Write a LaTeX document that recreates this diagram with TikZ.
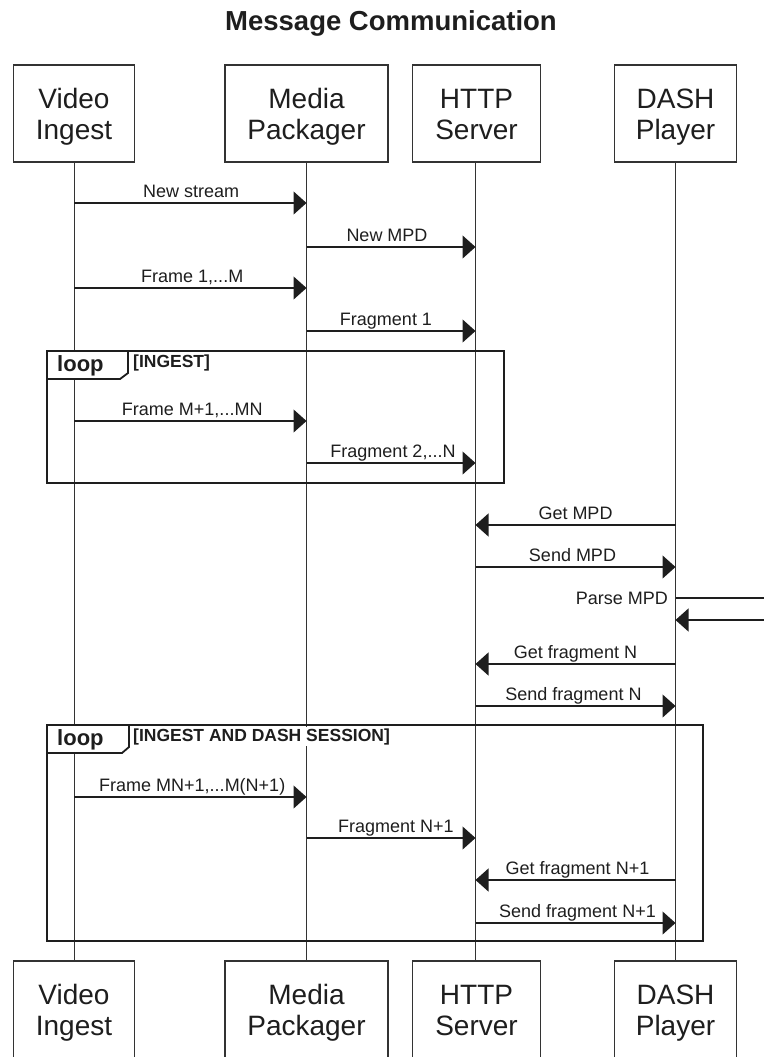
\documentclass[tikz,border=0pt]{standalone}
\usepackage{fontspec}
\setmainfont{Liberation Sans}
\usetikzlibrary{arrows.meta}
\definecolor{ink}{HTML}{1E1E1E}
\definecolor{edge}{HTML}{333333}

\tikzset{
  actor/.style={draw=edge, line width=1.1pt, fill=white, minimum height=97pt, inner sep=0pt},
  actortext/.style={anchor=base, font=\fontsize{28}{31}\selectfont, text=ink, inner sep=0pt},
  life/.style={draw=edge, line width=1pt},
  msg/.style={draw=ink, line width=1.1pt, -{Triangle[length=13pt,width=23pt]}},
  selfline/.style={draw=ink, line width=1.1pt},
  lbl/.style={anchor=base, font=\fontsize{18}{20}\selectfont, text=ink, inner sep=0pt, yshift=6pt},
  frameline/.style={draw=ink, line width=2.2pt},
  looptab/.style={draw=ink, line width=1.8pt, fill=white, line join=miter},
  looptext/.style={anchor=base west, font=\bfseries\fontsize{22}{24}\selectfont, text=ink, inner sep=0pt},
  guard/.style={anchor=base west, font=\bfseries\fontsize{17.5}{20}\selectfont, text=ink, inner sep=1pt, fill=white},
  heading/.style={anchor=base, font=\bfseries\fontsize{27.5}{30}\selectfont, text=ink, inner sep=0pt}
}

% participant box with a two-line caption: name, centre x, width, top y, line 1, line 2
\newcommand\actorbox[6]{%
  \node[actor, minimum width=#3pt] (#1) at (#2, #4+48.5) {};
  \node[actortext] (#1a) at (#2, #4+43) {#5};
  \node[actortext] (#1b) at (#2, #4+74) {#6};
}

\begin{document}
\begin{tikzpicture}[x=1pt, y=-1pt]
\useasboundingbox (0,0) rectangle (763,1057);

\node[heading] (title) at (391,31) {Message Communication};

% lifelines first, boxes on top of them
\coordinate (viTop) at (74,162);   \coordinate (viBot) at (74,961);
\coordinate (mpTop) at (306.5,162); \coordinate (mpBot) at (306.5,961);
\coordinate (hsTop) at (475.5,162); \coordinate (hsBot) at (475.5,961);
\coordinate (dpTop) at (675.5,162); \coordinate (dpBot) at (675.5,961);
\draw[life] (viTop) -- (viBot);
\draw[life] (mpTop) -- (mpBot);
\draw[life] (hsTop) -- (hsBot);
\draw[life] (dpTop) -- (dpBot);

\actorbox{viT}{74}{121}{65}{Video}{Ingest}
\actorbox{mpT}{306.5}{163}{65}{Media}{Packager}
\actorbox{hsT}{476.5}{128}{65}{HTTP}{Server}
\actorbox{dpT}{675.5}{122}{65}{DASH}{Player}

\actorbox{viB}{74}{121}{961}{Video}{Ingest}
\actorbox{mpB}{306.5}{163}{961}{Media}{Packager}
\actorbox{hsB}{476.5}{128}{961}{HTTP}{Server}
\actorbox{dpB}{675.5}{122}{961}{DASH}{Player}

% first messages
\draw[msg] (viTop |- 0,203) -- node[lbl, xshift=1pt] {New stream} (mpTop |- 0,203);
\draw[msg] (mpTop |- 0,247) -- node[lbl, xshift=-4pt] {New MPD} (hsTop |- 0,247);
\draw[msg] (viTop |- 0,288) -- node[lbl, xshift=2pt] {Frame 1,...M} (mpTop |- 0,288);
\draw[msg] (mpTop |- 0,331) -- node[lbl, xshift=-5pt] {Fragment 1} (hsTop |- 0,331);

% loop [INGEST]
\draw[frameline] (47,351) rectangle (504,483);
\draw[looptab] (47,351) -- (128,351) -- (128,373) -- (120,379) -- (47,379) -- cycle;
\node[looptext] (loopA) at (57,371) {loop};
\node[guard] (guardA) at (132,367) {[INGEST]};
\draw[msg] (viTop |- 0,421) -- node[lbl, xshift=2pt] {Frame M+1,...MN} (mpTop |- 0,421);
\draw[msg] (mpTop |- 0,463) -- node[lbl, xshift=2pt] {Fragment 2,...N} (hsTop |- 0,463);

% player start-up
\draw[msg] (dpTop |- 0,525) -- node[lbl] {Get MPD} (hsTop |- 0,525);
\draw[msg] (hsTop |- 0,567) -- node[lbl, xshift=-3pt] {Send MPD} (dpTop |- 0,567);

\coordinate (parseOut) at (770,598);
\coordinate (parseBack) at (770,620);
\draw[selfline] (dpTop |- 0,598) -- (parseOut);
\node[anchor=base east, font=\fontsize{18}{20}\selectfont, text=ink, inner sep=0pt] (parse) at (668,604) {Parse MPD};
\draw[msg] (parseBack) -- (dpTop |- 0,620);

\draw[msg] (dpTop |- 0,664) -- node[lbl] {Get fragment N} (hsTop |- 0,664);
\draw[msg] (hsTop |- 0,706) -- node[lbl, xshift=-2pt] {Send fragment N} (dpTop |- 0,706);

% loop [INGEST AND DASH SESSION]
\draw[frameline] (47,725) rectangle (703,941);
\draw[looptab] (47,725) -- (129,725) -- (129,747) -- (122,753) -- (47,753) -- cycle;
\node[looptext] (loopB) at (57,745) {loop};
\node[guard] (guardB) at (132,741) {[INGEST AND DASH SESSION]};
\draw[msg] (viTop |- 0,797) -- node[lbl, xshift=2pt] {Frame MN+1,...M(N+1)} (mpTop |- 0,797);
\draw[msg] (mpTop |- 0,838) -- node[lbl, xshift=5pt] {Fragment N+1} (hsTop |- 0,838);
\draw[msg] (dpTop |- 0,880) -- node[lbl, xshift=2pt] {Get fragment N+1} (hsTop |- 0,880);
\draw[msg] (hsTop |- 0,923) -- node[lbl, xshift=2pt] {Send fragment N+1} (dpTop |- 0,923);
\end{tikzpicture}
\end{document}
